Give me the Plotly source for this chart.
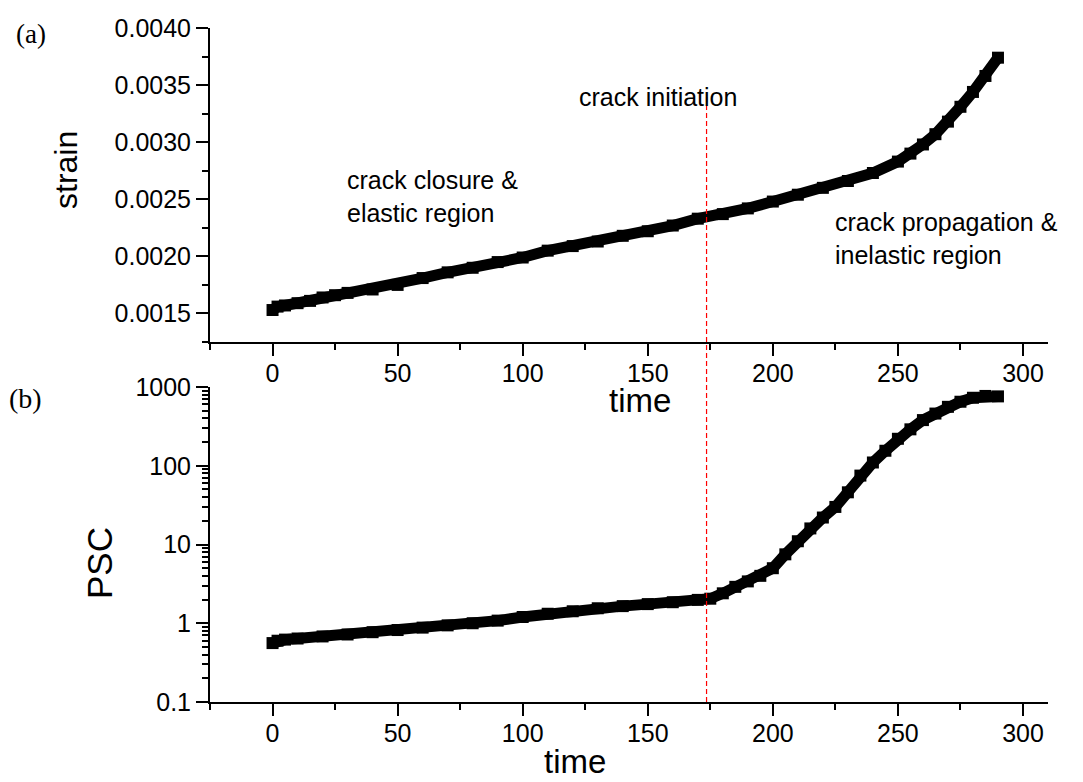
import plotly.graph_objects as go

# Strain record, sampled every few seconds
time_s = [0, 2, 5, 10, 15, 20, 25, 30, 40, 50, 60, 70, 80, 90, 100, 110, 120,
          130, 140, 150, 160, 170, 180, 190, 200, 210, 220, 230, 240, 250,
          255, 260, 265, 270, 275, 280, 285, 290]
strain = [0.00153, 0.00156, 0.00157, 0.00159, 0.00161, 0.00164, 0.00166,
          0.00168, 0.00171, 0.00175, 0.00181, 0.00186, 0.00190, 0.00195,
          0.00199, 0.00205, 0.00209, 0.00213, 0.00218, 0.00222, 0.00227,
          0.00233, 0.00237, 0.00242, 0.00248, 0.00254, 0.00260, 0.00266,
          0.00273, 0.00283, 0.00290, 0.00298, 0.00307, 0.00318, 0.00331,
          0.00344, 0.00358, 0.00374]

# Pressure stimulated current record
time_p = [0, 2, 5, 10, 20, 30, 40, 50, 60, 70, 80, 90, 100, 110, 120, 130,
          140, 150, 160, 170, 175, 180, 185, 190, 195, 200, 205, 210, 215,
          220, 225, 230, 235, 240, 245, 250, 255, 260, 265, 270, 275, 280,
          285, 290]
psc = [0.56, 0.60, 0.62, 0.64, 0.68, 0.72, 0.77, 0.82, 0.88, 0.94, 1.00,
       1.08, 1.20, 1.32, 1.42, 1.55, 1.65, 1.75, 1.85, 1.98, 2.05, 2.40,
       2.90, 3.40, 4.00, 5.00, 7.50, 11.0, 16.0, 22.0, 30.0, 46.0, 75.0,
       110.0, 155.0, 220.0, 290.0, 380.0, 460.0, 560.0, 650.0, 730.0,
       770.0, 760.0]

crack_init_time = 173.5
x_ticks = [0, 50, 100, 150, 200, 250, 300]
psc_ticks = [0.1, 1, 10, 100, 1000]
psc_tick_text = ["0.1", "1", "10", "100", "1000"]

W, H = 1083, 782
FONT = "Liberation Sans, Arial, sans-serif"
SERIF = "Liberation Serif, Times New Roman, serif"


def px(x):
    return x / W


def py(y):
    return 1 - y / H


fig = go.Figure()

band = dict(mode="lines+markers", line=dict(color="black", width=11),
            marker=dict(symbol="square", size=12, color="black"),
            showlegend=False, hoverinfo="skip")

fig.add_trace(go.Scatter(x=time_s, y=strain, xaxis="x", yaxis="y", **band))
fig.add_trace(go.Scatter(x=time_p, y=psc, xaxis="x2", yaxis="y2", **band))

axis_common = dict(
    showgrid=False, zeroline=False, showline=True, linecolor="black",
    linewidth=2, ticks="outside", ticklen=12, tickwidth=2, tickcolor="black",
    automargin=False,
    tickfont=dict(family=FONT, size=25, color="black"),
)
minor_common = dict(ticks="outside", ticklen=6, tickwidth=2, tickcolor="black")

xdom = [px(210), px(1048)]

fig.update_layout(
    template="none",
    width=W, height=H,
    margin=dict(l=0, r=0, t=0, b=0, autoexpand=False),
    paper_bgcolor="white", plot_bgcolor="white",
    xaxis=dict(domain=xdom, anchor="y", range=[-25, 310],
               tickvals=x_ticks, ticklabelstandoff=-4,
               minor=dict(dtick=25, tick0=0, **minor_common),
               **axis_common),
    yaxis=dict(domain=[py(342), py(28)], anchor="x", range=[0.00125, 0.0040],
               dtick=0.0005, tick0=0.0015, tickformat=".4f",
               minor=dict(dtick=0.00025, **minor_common),
               **axis_common),
    xaxis2=dict(domain=xdom, anchor="y2", range=[-25, 310],
                tickvals=x_ticks, ticklabelstandoff=-4,
                minor=dict(dtick=25, tick0=0, **minor_common),
                **axis_common),
    yaxis2=dict(domain=[py(702), py(387)], anchor="x2", type="log",
                range=[-1, 3], tickvals=psc_ticks, ticktext=psc_tick_text,
                minor=dict(dtick="D1", **minor_common),
                **axis_common),
)

# Crack initiation marker spanning both panels
fig.add_shape(type="line", xref="x", yref="paper",
              x0=crack_init_time, x1=crack_init_time,
              y0=py(702), y1=py(95),
              line=dict(color="red", width=1.2, dash="5px,3px"))

ann_font = dict(family=FONT, size=25, color="black")
title_font = dict(family=FONT, size=33, color="black")


def note(text, x, y, font, xanchor="left", angle=0):
    fig.add_annotation(text=text, xref="paper", yref="paper", x=px(x), y=py(y),
                       xanchor=xanchor, yanchor="middle", showarrow=False,
                       font=font, textangle=angle, align="left")


note("crack initiation", 577, 97, ann_font)
note("crack closure &<br>elastic region", 345, 196, ann_font)
note("crack propagation &<br>inelastic region", 833, 238, ann_font)

# Axis titles
note("strain", 66, 170, dict(family=FONT, size=32, color="black"),
     xanchor="center", angle=-90)
note("PSC", 99, 563, dict(family=FONT, size=35, color="black"),
     xanchor="center", angle=-90)
note("time", 640, 400, title_font, xanchor="center")
note("time", 575, 761, title_font, xanchor="center")

# Panel labels
note("(a)", 14, 34, dict(family=SERIF, size=27, color="black"))
note("(b)", 7, 399, dict(family=SERIF, size=28, color="black"))

fig.write_html("out.html")
